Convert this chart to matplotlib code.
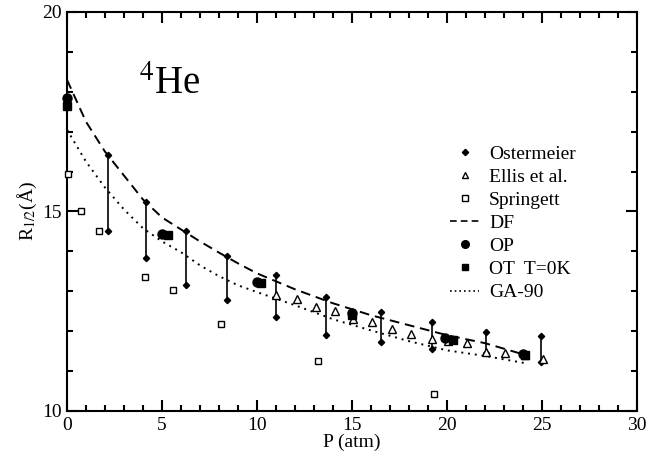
import matplotlib

matplotlib.use("Agg")
import matplotlib.pyplot as plt
from matplotlib.lines import Line2D

# Ostermeier: vertical range bars (upper / lower ends)
ost_p = [2.14, 4.14, 6.26, 8.4, 10.98, 13.65, 16.51, 19.23, 22.03, 24.93]
ost_hi = [16.42, 15.25, 14.51, 13.89, 13.40, 12.85, 12.48, 12.22, 11.99, 11.88]
ost_lo = [14.51, 13.83, 13.15, 12.77, 12.35, 11.90, 11.73, 11.55, 11.46, 11.24]

ellis_p = [10.98, 12.09, 13.09, 14.1, 15.07, 16.07, 17.09, 18.09, 19.23, 20.07,
           21.04, 22.03, 23.04, 24.1, 25.03]
ellis_r = [12.91, 12.81, 12.61, 12.51, 12.30, 12.24, 12.06, 11.93, 11.80, 11.76,
           11.70, 11.49, 11.45, 11.40, 11.30]

spring_p = [0.07, 0.74, 1.68, 4.12, 5.56, 8.1, 13.23, 19.33]
spring_r = [15.94, 15.01, 14.52, 13.35, 13.03, 12.17, 11.25, 10.43]

df_p = [0, 1, 2, 3, 4, 5, 6, 7, 8, 9, 10, 12, 14, 16, 18, 20, 22, 24.3]
df_r = [18.30, 17.25, 16.50, 15.90, 15.30, 14.85, 14.55, 14.25, 13.97, 13.70,
        13.45, 13.05, 12.70, 12.40, 12.15, 11.90, 11.70, 11.38]

op_p = [0.0, 5.0, 10.0, 15.0, 19.9, 24.0]
op_r = [17.84, 14.44, 13.24, 12.45, 11.82, 11.43]

ot_p = [0.0, 5.3, 10.2, 15.0, 20.3, 24.1]
ot_r = [17.64, 14.42, 13.20, 12.40, 11.78, 11.40]

ga_p = [0, 1, 2, 3, 4, 5, 6, 7, 8, 9, 10, 12, 14, 16, 18, 20, 22, 24.1]
ga_r = [17.05, 16.25, 15.60, 15.05, 14.58, 14.25, 13.98, 13.65, 13.38, 13.15,
        12.98, 12.65, 12.30, 12.02, 11.75, 11.52, 11.38, 11.20]

plt.rcParams["font.family"] = ["Liberation Serif", "DejaVu Serif"]
plt.rcParams["mathtext.fontset"] = "stix"

fig = plt.figure(figsize=(6.47, 4.59), dpi=100)
ax = fig.add_axes([67 / 647, 1 - 411 / 459, 570 / 647, 399 / 459])

ax.vlines(ost_p, ost_lo, ost_hi, color="black", lw=1.2, zorder=2)
ax.plot(ost_p + ost_p, ost_hi + ost_lo, ls="none", marker="D", ms=3.2,
        color="black", zorder=3)
ax.plot(ellis_p, ellis_r, ls="none", marker="^", ms=5.5, mfc="white",
        mec="black", mew=1.0, zorder=3)
ax.plot(spring_p, spring_r, ls="none", marker="s", ms=5, mfc="white",
        mec="black", mew=1.0, zorder=3, clip_on=False)
ax.plot(df_p, df_r, ls=(0, (5, 3)), color="black", lw=1.4, zorder=1)
ax.plot(op_p, op_r, ls="none", marker="o", ms=6.5, color="black", zorder=4,
        clip_on=False)
ax.plot(ot_p, ot_r, ls="none", marker="s", ms=5.5, color="black", zorder=4,
        clip_on=False)
ax.plot(ga_p, ga_r, ls=(0, (1, 2.5)), color="black", lw=1.4, zorder=1)

ax.set_xlim(0, 30)
ax.set_ylim(10, 20)
ax.set_xticks([0, 5, 10, 15, 20, 25, 30])
ax.set_xticks(range(0, 31), minor=True)
ax.set_yticks([10, 15, 20])
ax.set_yticks(range(10, 21), minor=True)
ax.tick_params(which="both", direction="in", top=True, right=True,
               labelsize=14, width=1.5)
ax.tick_params(which="major", length=8, pad=4)
ax.tick_params(which="minor", length=4.5)
for spine in ax.spines.values():
    spine.set_linewidth(1.5)

ax.set_xlabel("P (atm)", fontsize=14, labelpad=0)
ax.set_ylabel("R$_{1/2}$(Å)", fontsize=14, labelpad=2)

ax.text(5.4, 17.95, "$^{4}$He", fontsize=28, ha="center", va="baseline")

handles = [
    Line2D([], [], ls="none", marker="D", ms=3.2, color="black"),
    Line2D([], [], ls="none", marker="^", ms=4.5, mfc="white", mec="black"),
    Line2D([], [], ls="none", marker="s", ms=4, mfc="white", mec="black"),
    Line2D([], [], ls=(0, (4, 2.5)), color="black", lw=1.2),
    Line2D([], [], ls="none", marker="o", ms=5.5, color="black"),
    Line2D([], [], ls="none", marker="s", ms=4.5, color="black"),
    Line2D([], [], ls=(0, (1, 1.8)), color="black", lw=1.2),
]
labels = ["Ostermeier", "Ellis et al.", "Springett", "DF", "OP",
          "OT  T=0K", "GA-90"]
ax.legend(handles, labels, loc="upper left", bbox_to_anchor=(0.655, 0.69),
          frameon=False, fontsize=14, handlelength=1.5, handletextpad=0.5,
          labelspacing=0.28, borderpad=0)

fig.savefig("out.png", dpi=100)
